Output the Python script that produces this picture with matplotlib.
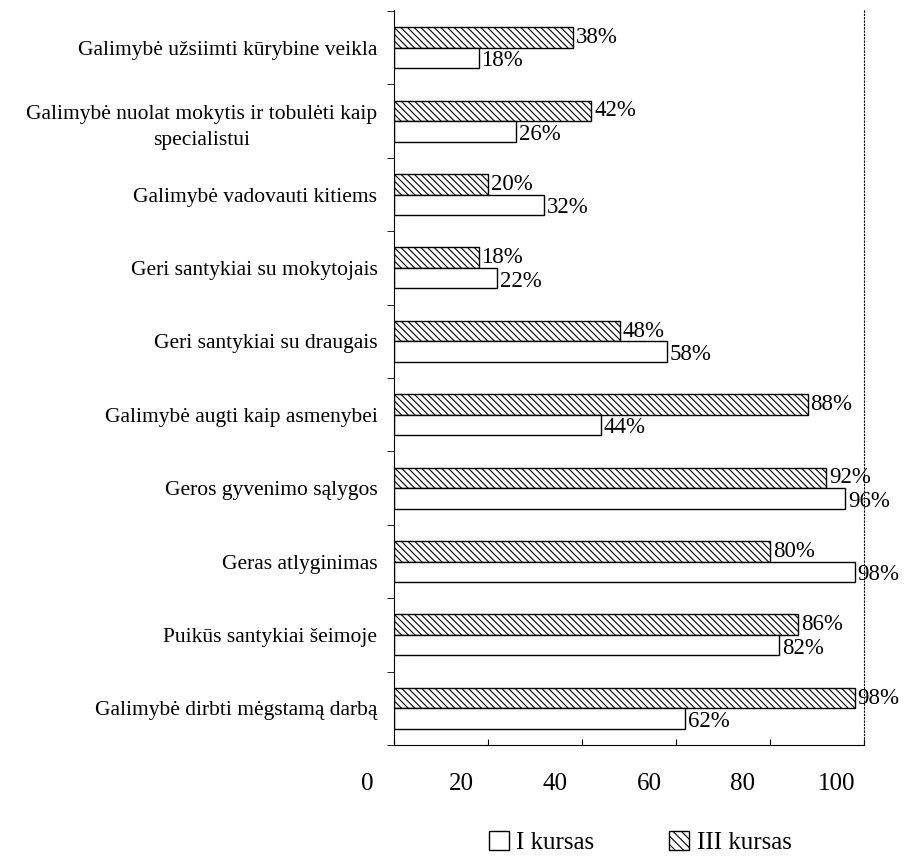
import matplotlib
matplotlib.use("Agg")
import matplotlib.pyplot as plt
import matplotlib.transforms as mtransforms
from matplotlib.patches import Patch
import numpy as np

plt.rcParams['font.family'] = ['Liberation Serif', 'DejaVu Serif']
plt.rcParams['hatch.linewidth'] = 0.8

categories = [
    "Galimybė užsiimti kūrybine veikla",
    "Galimybė nuolat mokytis ir tobulėti kaip\nspecialistui",
    "Galimybė vadovauti kitiems",
    "Geri santykiai su mokytojais",
    "Geri santykiai su draugais",
    "Galimybė augti kaip asmenybei",
    "Geros gyvenimo sąlygos",
    "Geras atlyginimas",
    "Puikūs santykiai šeimoje",
    "Galimybė dirbti mėgstamą darbą",
]
kursas_I = [18, 26, 32, 22, 58, 44, 96, 98, 82, 62]
kursas_III = [38, 42, 20, 18, 48, 88, 92, 80, 86, 98]
xticks = [0, 20, 40, 60, 80, 100]

fig = plt.figure(figsize=(9.08, 8.59), dpi=100)
ax = fig.add_axes([0.434, 0.1327, 0.5175, 0.8553])

y = np.arange(len(categories))
h = 0.28
ax.barh(y - h / 2, kursas_III, height=h, color='white', edgecolor='black',
        hatch='\\\\\\\\\\', linewidth=1.0, label='III kursas')
ax.barh(y + h / 2, kursas_I, height=h, color='white', edgecolor='black',
        linewidth=1.0, label='I kursas')

for yi, v in zip(y, kursas_III):
    ax.text(v + 0.6, yi - h / 2, f"{v}%", va='center', ha='left', fontsize=16.5)
for yi, v in zip(y, kursas_I):
    ax.text(v + 0.6, yi + h / 2 + 0.04, f"{v}%", va='center', ha='left', fontsize=16.5)

ax.set_xlim(0, 100)
ax.set_ylim(9.36, -0.51)
ax.set_yticks(y)
ax.set_yticklabels(categories, fontsize=15.5, multialignment='center')
for lbl in ax.get_yticklabels():
    lbl.set_linespacing(1.55)
ax.tick_params(axis='y', which='major', length=0, pad=12)
ax.set_yticks(np.arange(-0.5, len(categories), 1.0), minor=True)
ax.tick_params(axis='y', which='minor', length=5, direction='out')

ax.set_xticks(xticks)
ax.set_xticklabels([str(t) for t in xticks], fontsize=18)
ax.tick_params(axis='x', length=4, direction='in', pad=20)
offset = mtransforms.ScaledTranslation(-27 / 100, 0, fig.dpi_scale_trans)
for lbl in ax.get_xticklabels():
    lbl.set_transform(lbl.get_transform() + offset)

ax.spines['top'].set_visible(False)
ax.spines['right'].set_linestyle((0, (1, 2)))
ax.spines['right'].set_linewidth(0.8)

handles = [Patch(facecolor='white', edgecolor='black', label='I kursas'),
           Patch(facecolor='white', edgecolor='black', hatch='\\\\\\\\', label='III kursas')]
fig.legend(handles=handles, loc='center', bbox_to_anchor=(0.705, 0.019), ncol=2,
           frameon=False, fontsize=18, handlelength=0.8, handleheight=0.8,
           handletextpad=0.3, columnspacing=3.0)

fig.savefig("out.png", dpi=100)
